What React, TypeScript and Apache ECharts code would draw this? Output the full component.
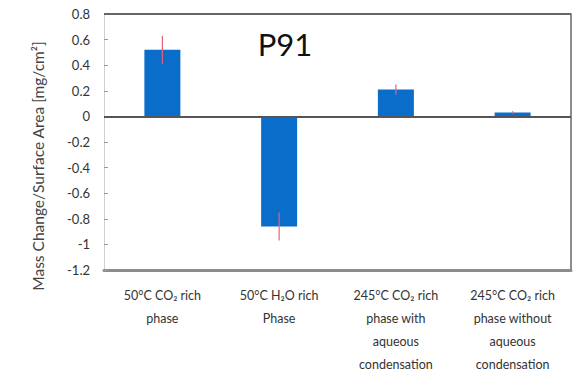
import React, { useEffect, useRef } from "react";
import * as echarts from "echarts";

const categories = [
  "50°C CO₂ rich\nphase",
  "50°C H₂O rich\nPhase",
  "245°C CO₂ rich\nphase with\naqueous\ncondensation",
  "245°C CO₂ rich\nphase without\naqueous\ncondensation",
];
const values = [0.52, -0.86, 0.21, 0.03];
const errors = [0.11, 0.11, 0.04, 0.01];
const yMin = -1.2;
const yMax = 0.8;
const yStep = 0.2;
const yTitle = "Mass Change/Surface Area [mg/cm²]";
const chartLabel = "P91";

export default function App() {
  const ref = useRef<HTMLDivElement>(null);
  useEffect(() => {
    if (!ref.current) return;
    const chart = echarts.init(ref.current, undefined, { renderer: "svg" });
    const errData = values.map((v, i) => [i, v - errors[i], v + errors[i]]);
    chart.setOption({
      animation: false,
      textStyle: { fontFamily: "Lato" },
      grid: { left: 104, right: 10, top: 14, bottom: 105 },
      xAxis: {
        type: "category",
        data: categories,
        axisLine: { onZero: false, lineStyle: { color: "#8c8c8c", width: 3 } },
        axisTick: { show: false },
        axisLabel: {
          interval: 0,
          color: "#333",
          fontSize: 12.5,
          lineHeight: 23,
          margin: 14,
          fontFamily: "Lato",
        },
      },
      yAxis: [
        {
          type: "value",
          min: yMin,
          max: yMax,
          interval: yStep,
          axisLine: { show: true, lineStyle: { color: "#d0d0d0", width: 1 } },
          axisTick: { show: true, inside: true, length: 4, lineStyle: { color: "#999" } },
          splitLine: { show: false },
          axisLabel: { color: "#333", fontSize: 13, margin: 14, fontFamily: "Lato" },
        },
        {
          type: "value",
          position: "right",
          min: yMin,
          max: yMax,
          interval: yStep,
          axisLine: { show: true, lineStyle: { color: "#8c8c8c", width: 2 } },
          axisTick: { show: false },
          axisLabel: { show: false },
          splitLine: { show: false },
        },
      ],
      graphic: [
        {
          type: "text",
          x: 38,
          y: 166,
          rotation: Math.PI / 2,
          style: {
            text: yTitle,
            fontSize: 15.5,
            fontFamily: "Lato",
            fill: "#444",
            textAlign: "center",
            textVerticalAlign: "middle",
          },
        },
        {
          type: "text",
          x: 285,
          y: 44,
          style: {
            text: chartLabel,
            fontSize: 31,
            fontFamily: "Lato",
            fill: "#111",
            textAlign: "center",
            textVerticalAlign: "middle",
          },
        },
      ],
      series: [
        {
          type: "bar",
          data: values,
          barWidth: 36,
          itemStyle: { color: "#0B6DCA" },
          markLine: {
            silent: true,
            symbol: "none",
            label: { show: false },
            data: [
              { yAxis: 0, lineStyle: { color: "#555", width: 2, type: "solid" } },
              { yAxis: yMax, lineStyle: { color: "#666", width: 2, type: "solid" } },
            ],
          },
        },
        {
          type: "custom",
          data: errData,
          encode: { x: 0, y: [1, 2] },
          z: 5,
          renderItem: (params: any, api: any) => {
            const i = api.value(0);
            const p1 = api.coord([i, api.value(1)]);
            const p2 = api.coord([i, api.value(2)]);
            return {
              type: "line",
              shape: { x1: p1[0], y1: p1[1], x2: p2[0], y2: p2[1] },
              style: { stroke: "#E8607A", lineWidth: 1.2 },
            };
          },
        },
      ],
    });
    return () => chart.dispose();
  }, []);
  return <div ref={ref} style={{ width: 581, height: 376, position: "absolute", left: 0, top: 0, background: "#fff" }} />;
}
